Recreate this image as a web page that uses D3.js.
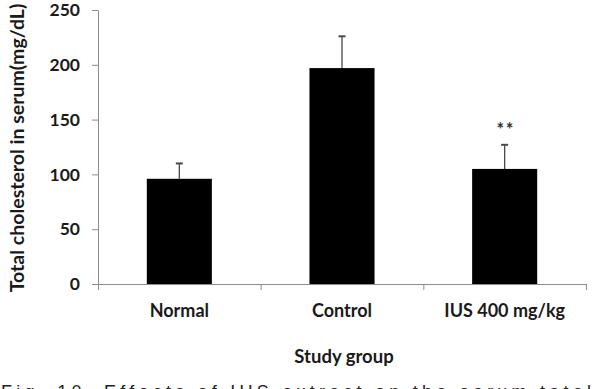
<!DOCTYPE html>
<html>
<head>
<meta charset="utf-8">
<script src="https://cdn.jsdelivr.net/npm/d3@7"></script>
<style>
    body { margin: 0; background: #fff; }
    .tick-label, .cat-label, .axis-title { font-family: Lato, "Open Sans", sans-serif; font-weight: bold; fill: #1a1a1a; }
    .caption { font-family: "Liberation Sans", Arial, sans-serif; fill: #222; }
</style>
</head>
<body>
<div id="chart"></div>
<script>
// values
let categories = ["Normal", "Control", "IUS 400 mg/kg"];
let means = [96, 197, 105];
let errors = [14, 29, 22];
let marks = ["", "", "**"];
let yTicks = [0, 50, 100, 150, 200, 250];

let data = categories.map((c, i) => ({ key: c, value: means[i], err: errors[i], mark: marks[i] }));

let width = 594, height = 389;
let margin = { top: 10, right: 8, bottom: 105, left: 98 };

let svg = d3.select("#chart").append("svg")
    .attr("width", width)
    .attr("height", height);

let plotW = width - margin.left - margin.right;
let plotH = height - margin.top - margin.bottom;

let g = svg.append("g")
    .attr("transform", "translate(" + margin.left + "," + margin.top + ")");

let x = d3.scaleBand()
    .domain(categories)
    .range([0, plotW])
    .paddingInner(0.6)
    .paddingOuter(0.3);

// separate scale for the category boundary ticks
let xEdges = d3.scaleLinear()
    .domain([0, categories.length])
    .range([0, plotW]);

let y = d3.scaleLinear()
    .domain([0, 250])
    .range([plotH, 0]);

// bars
g.selectAll(".bar")
    .data(data)
    .enter()
    .append("rect")
    .attr("class", "bar")
    .attr("x", d => x(d.key))
    .attr("width", x.bandwidth())
    .attr("y", d => y(d.value))
    .attr("height", d => y(0) - y(d.value))
    .attr("fill", "#000");

// error bars (upper only)
let errG = g.selectAll(".err")
    .data(data)
    .enter()
    .append("g")
    .attr("class", "err")
    .attr("stroke", "#4a4a4a")
    .attr("stroke-width", 1.3);

errG.append("line")
    .attr("x1", d => x(d.key) + x.bandwidth() / 2)
    .attr("x2", d => x(d.key) + x.bandwidth() / 2)
    .attr("y1", d => y(d.value))
    .attr("y2", d => y(d.value + d.err));

errG.append("line")
    .attr("x1", d => x(d.key) + x.bandwidth() / 2 - 3.5)
    .attr("x2", d => x(d.key) + x.bandwidth() / 2 + 3.5)
    .attr("y1", d => y(d.value + d.err))
    .attr("y2", d => y(d.value + d.err))
    .attr("stroke-width", 2);

// significance marks
g.selectAll(".sig")
    .data(data.filter(d => d.mark))
    .enter()
    .append("text")
    .attr("class", "sig")
    .attr("x", d => x(d.key) + x.bandwidth() / 2 + 1)
    .attr("y", d => y(d.value + d.err) - 9)
    .attr("text-anchor", "middle")
    .style("font-family", "Lato, sans-serif")
    .style("font-weight", "bold")
    .style("font-size", "18px")
    .style("letter-spacing", "1.5px")
    .style("fill", "#333")
    .text(d => d.mark);

// y axis
let yAxis = g.append("g")
    .call(d3.axisLeft(y).tickValues(yTicks).tickSize(6).tickSizeOuter(0).tickPadding(12));
yAxis.selectAll("path, line").attr("stroke", "#8c8c8c");
yAxis.selectAll("text")
    .attr("class", "tick-label")
    .style("font-size", "17.5px")
    .attr("font-family", null);

// x axis with boundary ticks
let xAxis = g.append("g")
    .attr("transform", "translate(0," + plotH + ")")
    .call(d3.axisBottom(xEdges).tickValues(d3.range(categories.length + 1)).tickSize(6).tickSizeOuter(0).tickFormat(""));
xAxis.selectAll("path, line").attr("stroke", "#8c8c8c");

// category labels
let catAxis = g.append("g")
    .attr("transform", "translate(0," + plotH + ")")
    .call(d3.axisBottom(x).tickSize(0).tickPadding(20));
catAxis.select(".domain").remove();
catAxis.selectAll("text")
    .attr("class", "cat-label")
    .style("font-size", "18px")
    .attr("font-family", null);

// axis titles
svg.append("text")
    .attr("class", "axis-title")
    .attr("text-anchor", "middle")
    .attr("x", margin.left + plotW / 2 + 2)
    .attr("y", 363)
    .style("font-size", "18.5px")
    .text("Study group");

svg.append("text")
    .attr("class", "axis-title")
    .attr("text-anchor", "middle")
    .attr("transform", "translate(24," + (margin.top + plotH / 2 + 1) + ") rotate(-90)")
    .style("font-size", "19.5px")
    .text("Total cholesterol in serum(mg/dL)");

// figure caption, cut off at the bottom edge like the source image
svg.append("text")
    .attr("class", "caption")
    .attr("x", 1)
    .attr("y", 398)
    .attr("textLength", 590)
    .attr("lengthAdjust", "spacing")
    .style("font-size", "18px")
    .text("Fig. 10. Effects of IUS extract on the serum total");
</script>
</body>
</html>
